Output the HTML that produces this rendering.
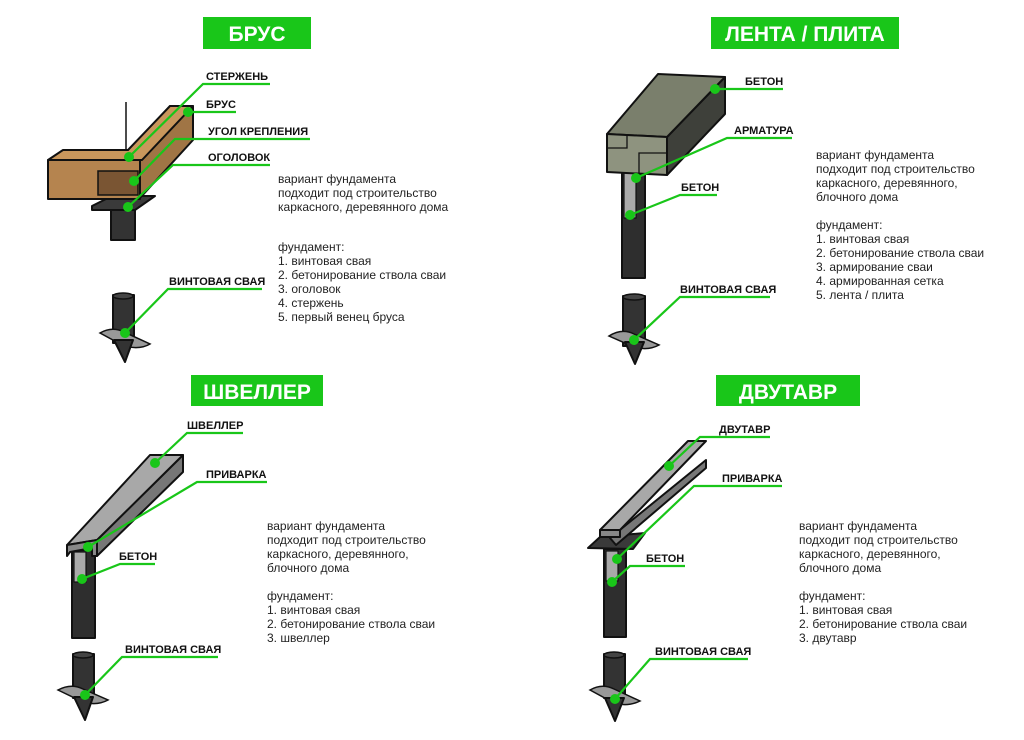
<!DOCTYPE html>
<html><head><meta charset="utf-8"><style>
html,body{margin:0;padding:0;background:#fff}
svg{display:block}
.t{font-family:"Liberation Sans",sans-serif;font-size:12px;fill:#222}
.l{font-family:"Liberation Sans",sans-serif;font-size:11px;font-weight:bold;fill:#111}
.h{font-family:"Liberation Sans",sans-serif;font-size:21px;font-weight:bold;fill:#fff}
.g{stroke:#19c619;stroke-width:2.2;fill:none}
.d{fill:#19c619}
.k{stroke:#111;stroke-width:2;stroke-linejoin:round}
</style></head><body>
<svg width="1024" height="740" viewBox="0 0 1024 740" xmlns="http://www.w3.org/2000/svg">
<rect width="1024" height="740" fill="#fff"/>
<!-- headers -->
<rect x="203" y="17" width="108" height="32" fill="#19c619"/><text class="h" x="257" y="41" text-anchor="middle">БРУС</text>
<rect x="711" y="17" width="188" height="32" fill="#19c619"/><text class="h" x="805" y="41" text-anchor="middle">ЛЕНТА / ПЛИТА</text>
<rect x="191" y="375" width="132" height="31" fill="#19c619"/><text class="h" x="257" y="399" text-anchor="middle">ШВЕЛЛЕР</text>
<rect x="716" y="375" width="144" height="31" fill="#19c619"/><text class="h" x="788" y="399" text-anchor="middle">ДВУТАВР</text>

<!-- BRUS drawing -->
<line x1="126" y1="102" x2="126" y2="152" stroke="#111" stroke-width="1.5"/>
<rect x="111" y="208" width="24" height="32" fill="#333" class="k"/>
<polygon points="92,206 112,196 155,196 135,210 92,210" fill="#3a3a3a" class="k"/>
<polygon points="130,150 170,106 193,106 193,140 140,198 130,198" fill="#a07545" class="k"/>
<polygon points="48,160 63,150 128,150 170,106 193,106 142,160" fill="#c9975c" class="k"/>
<rect x="48" y="160" width="92" height="39" fill="#b5844f" class="k"/>
<rect x="98" y="171" width="40" height="24" fill="#7a5533" stroke="#111" stroke-width="1.5"/>
<!-- screw pile -->
<rect x="113" y="295" width="21" height="48" fill="#333" class="k"/>
<ellipse cx="123" cy="296" rx="10" ry="3" fill="#444" stroke="#111" stroke-width="1.5"/>
<path d="M100,333 Q112,326 124,332 L150,344 Q140,350 124,346 Z" fill="#999" stroke="#111" stroke-width="1.5"/>
<polygon points="114,340 133,340 125,362" fill="#333" class="k"/>
<!-- brus labels -->
<polyline class="g" points="129,157 203,84 270,84"/><circle class="d" cx="129" cy="157" r="5"/><text class="l" x="206" y="80">СТЕРЖЕНЬ</text>
<polyline class="g" points="188,112 236,112"/><circle class="d" cx="188" cy="112" r="5"/><text class="l" x="206" y="108">БРУС</text>
<polyline class="g" points="134,181 175,139 310,139"/><circle class="d" cx="134" cy="181" r="5"/><text class="l" x="208" y="135">УГОЛ КРЕПЛЕНИЯ</text>
<polyline class="g" points="128,207 173,165 270,165"/><circle class="d" cx="128" cy="207" r="5"/><text class="l" x="208" y="161">ОГОЛОВОК</text>
<polyline class="g" points="125,333 168,289 262,289"/><circle class="d" cx="125" cy="333" r="5"/><text class="l" x="169" y="285">ВИНТОВАЯ СВАЯ</text>
<text class="t" x="278" y="183">вариант фундамента</text>
<text class="t" x="278" y="197">подходит под строительство</text>
<text class="t" x="278" y="211">каркасного, деревянного дома</text>
<text class="t" x="278" y="251">фундамент:</text>
<text class="t" x="278" y="265">1. винтовая свая</text>
<text class="t" x="278" y="279">2. бетонирование ствола сваи</text>
<text class="t" x="278" y="293">3. оголовок</text>
<text class="t" x="278" y="307">4. стержень</text>
<text class="t" x="278" y="321">5. первый венец бруса</text>

<!-- LENTA drawing -->
<rect x="622" y="172" width="23" height="106" fill="#2e2e2e" class="k"/>
<rect x="624" y="173" width="12" height="45" fill="#aaa" stroke="#111" stroke-width="1.2"/>
<polygon points="667,137 725,77 725,114 667,175" fill="#3e403a" class="k"/>
<polygon points="607,134 658,74 725,77 667,137" fill="#7a7f6c" class="k"/>
<polygon points="607,134 667,137 667,175 607,172" fill="#8e937f" class="k"/>
<polyline points="607,148 627,148 627,135" fill="none" stroke="#111" stroke-width="1.3"/>
<polyline points="639,174 639,153 667,153" fill="none" stroke="#111" stroke-width="1.3"/>
<rect x="623" y="296" width="22" height="50" fill="#333" class="k"/>
<ellipse cx="634" cy="297" rx="11" ry="3" fill="#444" stroke="#111" stroke-width="1.5"/>
<path d="M609,336 Q622,328 634,334 L659,345 Q648,351 634,347 Z" fill="#999" stroke="#111" stroke-width="1.5"/>
<polygon points="625,342 644,342 635,364" fill="#333" class="k"/>
<polyline class="g" points="715,89 783,89"/><circle class="d" cx="715" cy="89" r="5"/><text class="l" x="745" y="85">БЕТОН</text>
<polyline class="g" points="636,178 727,138 792,138"/><circle class="d" cx="636" cy="178" r="5"/><text class="l" x="734" y="134">АРМАТУРА</text>
<polyline class="g" points="630,215 680,195 717,195"/><circle class="d" cx="630" cy="215" r="5"/><text class="l" x="681" y="191">БЕТОН</text>
<polyline class="g" points="634,340 680,297 770,297"/><circle class="d" cx="634" cy="340" r="5"/><text class="l" x="680" y="293">ВИНТОВАЯ СВАЯ</text>
<text class="t" x="816" y="159">вариант фундамента</text>
<text class="t" x="816" y="173">подходит под строительство</text>
<text class="t" x="816" y="187">каркасного, деревянного,</text>
<text class="t" x="816" y="201">блочного дома</text>
<text class="t" x="816" y="229">фундамент:</text>
<text class="t" x="816" y="243">1. винтовая свая</text>
<text class="t" x="816" y="257">2. бетонирование ствола сваи</text>
<text class="t" x="816" y="271">3. армирование сваи</text>
<text class="t" x="816" y="285">4. армированная сетка</text>
<text class="t" x="816" y="299">5. лента / плита</text>

<!-- SHVELLER drawing -->
<rect x="72" y="550" width="23" height="88" fill="#2e2e2e" class="k"/>
<rect x="74" y="552" width="12" height="30" fill="#aaa" stroke="#111" stroke-width="1.2"/>
<polygon points="97,540 183,455 183,472 97,556" fill="#777" class="k"/>
<polygon points="67,545 150,455 183,455 97,540" fill="#a8a8a8" class="k"/>
<polygon points="67,545 97,540 97,556 92,556 92,548 70,552 67,556" fill="#888" class="k"/>
<rect x="73" y="654" width="21" height="44" fill="#333" class="k"/>
<ellipse cx="83" cy="655" rx="10" ry="3" fill="#444" stroke="#111" stroke-width="1.5"/>
<path d="M58,690 Q71,683 83,689 L108,700 Q97,706 83,702 Z" fill="#999" stroke="#111" stroke-width="1.5"/>
<polygon points="74,697 93,697 85,720" fill="#333" class="k"/>
<polyline class="g" points="155,463 187,433 243,433"/><circle class="d" cx="155" cy="463" r="5"/><text class="l" x="187" y="429">ШВЕЛЛЕР</text>
<polyline class="g" points="88,547 197,482 267,482"/><circle class="d" cx="88" cy="547" r="5"/><text class="l" x="206" y="478">ПРИВАРКА</text>
<polyline class="g" points="82,579 120,564 155,564"/><circle class="d" cx="82" cy="579" r="5"/><text class="l" x="119" y="560">БЕТОН</text>
<polyline class="g" points="85,695 122,657 218,657"/><circle class="d" cx="85" cy="695" r="5"/><text class="l" x="125" y="653">ВИНТОВАЯ СВАЯ</text>
<text class="t" x="267" y="530">вариант фундамента</text>
<text class="t" x="267" y="544">подходит под строительство</text>
<text class="t" x="267" y="558">каркасного, деревянного,</text>
<text class="t" x="267" y="572">блочного дома</text>
<text class="t" x="267" y="600">фундамент:</text>
<text class="t" x="267" y="614">1. винтовая свая</text>
<text class="t" x="267" y="628">2. бетонирование ствола сваи</text>
<text class="t" x="267" y="642">3. швеллер</text>

<!-- DVUTAVR drawing -->
<rect x="604" y="549" width="22" height="88" fill="#2e2e2e" class="k"/>
<rect x="606" y="551" width="12" height="30" fill="#aaa" stroke="#111" stroke-width="1.2"/>
<polygon points="588,548 600,537 645,533 633,549" fill="#3a3a3a" class="k"/>
<polygon points="610,538 706,460 706,468 616,545" fill="#777" class="k"/>
<polygon points="600,530 688,441 706,441 620,530" fill="#a8a8a8" class="k"/>
<polygon points="600,530 620,530 620,537 600,537" fill="#888" class="k"/>
<rect x="604" y="654" width="21" height="44" fill="#333" class="k"/>
<ellipse cx="614" cy="655" rx="10" ry="3" fill="#444" stroke="#111" stroke-width="1.5"/>
<path d="M590,690 Q602,683 614,689 L640,701 Q628,707 614,703 Z" fill="#999" stroke="#111" stroke-width="1.5"/>
<polygon points="605,698 624,698 615,721" fill="#333" class="k"/>
<polyline class="g" points="669,466 700,437 770,437"/><circle class="d" cx="669" cy="466" r="5"/><text class="l" x="719" y="433">ДВУТАВР</text>
<polyline class="g" points="617,559 694,486 782,486"/><circle class="d" cx="617" cy="559" r="5"/><text class="l" x="722" y="482">ПРИВАРКА</text>
<polyline class="g" points="612,582 630,566 685,566"/><circle class="d" cx="612" cy="582" r="5"/><text class="l" x="646" y="562">БЕТОН</text>
<polyline class="g" points="615,699 650,659 748,659"/><circle class="d" cx="615" cy="699" r="5"/><text class="l" x="655" y="655">ВИНТОВАЯ СВАЯ</text>
<text class="t" x="799" y="530">вариант фундамента</text>
<text class="t" x="799" y="544">подходит под строительство</text>
<text class="t" x="799" y="558">каркасного, деревянного,</text>
<text class="t" x="799" y="572">блочного дома</text>
<text class="t" x="799" y="600">фундамент:</text>
<text class="t" x="799" y="614">1. винтовая свая</text>
<text class="t" x="799" y="628">2. бетонирование ствола сваи</text>
<text class="t" x="799" y="642">3. двутавр</text>
</svg>
</body></html>
